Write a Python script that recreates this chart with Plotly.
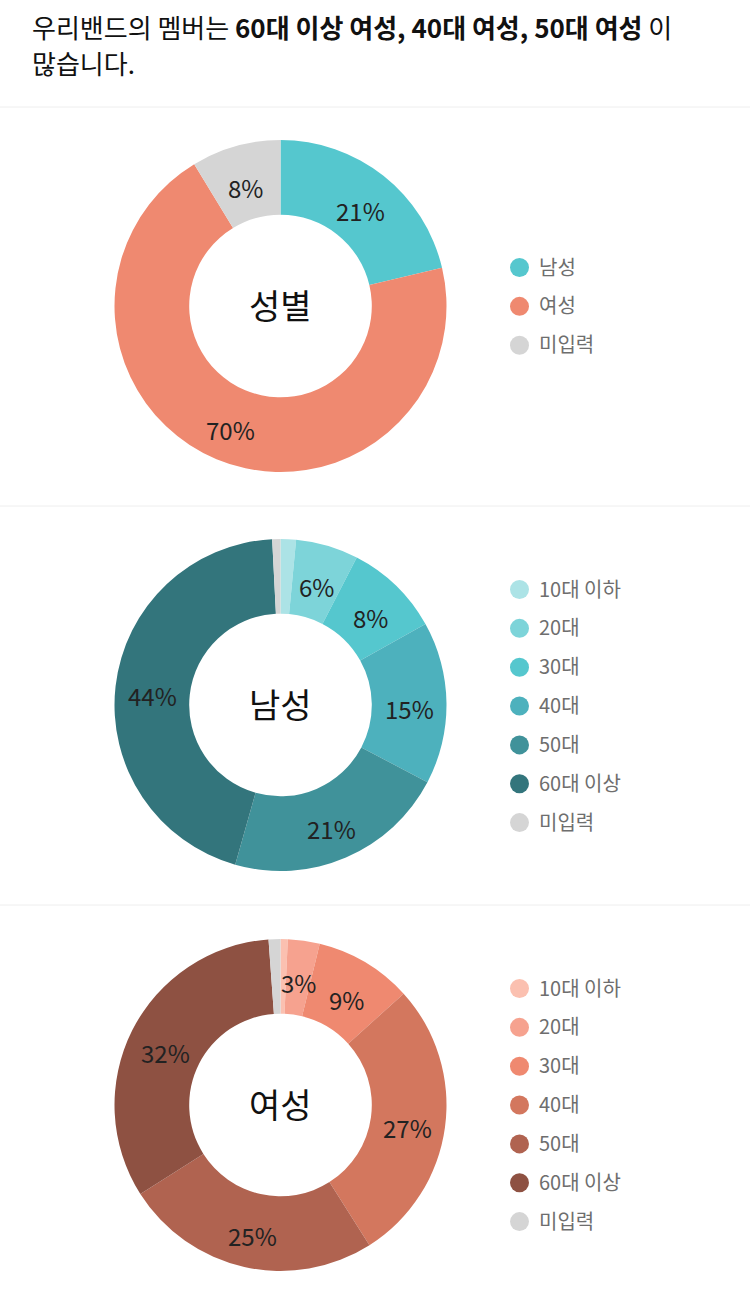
import math
import plotly.graph_objects as go

W, H = 750, 1298
FONT = "Noto Sans CJK KR"

gender_labels = ["남성", "여성", "미입력"]
gender_values = [21.3, 70.0, 8.7]
gender_text = ["21%", "70%", "8%"]
gender_colors = ["#55C7CE", "#EF8970", "#D5D5D5"]

age_labels = ["10대 이하", "20대", "30대", "40대", "50대", "60대 이상", "미입력"]

male_values = [1.5, 6.1, 9.3, 15.8, 21.7, 44.8, 0.8]
male_text = ["", "6%", "8%", "15%", "21%", "44%", ""]
male_colors = ["#ACE3E6", "#7DD4D9", "#55C7CE", "#4DB1BD", "#40929A", "#33757C", "#D5D5D5"]

female_values = [0.7, 3.1, 9.5, 27.7, 25.0, 32.85, 1.15]
female_text = ["", "3%", "9%", "27%", "25%", "32%", ""]
female_colors = ["#FBC0B0", "#F6A28F", "#EF8970", "#D3775E", "#B06350", "#8E5142", "#D5D5D5"]

charts = [
    ("성별", 306, gender_labels, gender_values, gender_text, gender_colors, 267),
    ("남성", 705, age_labels, male_values, male_text, male_colors, 589),
    ("여성", 1105, age_labels, female_values, female_text, female_colors, 988),
]
separators = [107, 506, 905]
CX, R, HOLE = 280.5, 166, 0.55
LEG_X, LEG_TEXT_X, LEG_STEP = 519.5, 539, 38.85

fig = go.Figure()
annotations = []

def add_text(x, y, text, size, color="#222222", anchor="center"):
    annotations.append(dict(xref="x", yref="y", x=x, y=y, text=text, showarrow=False,
                            xanchor=anchor, yanchor="middle",
                            font=dict(family=FONT, size=size, color=color)))

for title, cy, labels, values, texts, colors, leg_y in charts:
    fig.add_trace(go.Pie(
        labels=labels, values=values, marker=dict(colors=colors, line=dict(width=0)),
        hole=HOLE, sort=False, direction="clockwise", rotation=0,
        textinfo="none", showlegend=False, hoverinfo="label+percent",
        domain=dict(x=[(CX - R) / W, (CX + R) / W], y=[1 - (cy + R) / H, 1 - (cy - R) / H]),
    ))
    add_text(CX, cy - 2, title, 34, "#111111")
    # percent labels sit at the middle of each ring slice
    total, run = sum(values), 0
    mid_r = R * (1 + HOLE) / 2
    for v, t in zip(values, texts):
        a = 2 * math.pi * (run + v / 2) / total
        run += v
        if t:
            add_text(CX + mid_r * math.sin(a), cy - mid_r * math.cos(a) + 5, t, 24, "#222222")
    # legend rows
    ys = [leg_y + i * LEG_STEP for i in range(len(labels))]
    fig.add_trace(go.Scatter(
        x=[LEG_X] * len(labels), y=[v + 0.5 for v in ys], mode="markers",
        marker=dict(size=19, color=colors, line=dict(width=0)),
        showlegend=False, hoverinfo="skip", cliponaxis=False,
    ))
    fig.add_trace(go.Scatter(
        x=[LEG_TEXT_X] * len(labels), y=[v + 2.5 for v in ys], mode="text",
        text=labels, textposition="middle right",
        textfont=dict(family=FONT, size=20, color="#6E6E6E"),
        showlegend=False, hoverinfo="skip", cliponaxis=False,
    ))

add_text(30, 26, '우리밴드의 멤버는 <b>60대 이상 여성, 40대 여성, 50대 여성</b> 이', 26, "#111111", "left")
add_text(30, 62, '많습니다.', 26, "#111111", "left")

fig.update_layout(
    width=W, height=H, margin=dict(l=0, r=0, t=0, b=0),
    paper_bgcolor="white", plot_bgcolor="rgba(0,0,0,0)",
    xaxis=dict(range=[0, W], visible=False, fixedrange=True, domain=[0, 1]),
    yaxis=dict(range=[H, 0], visible=False, fixedrange=True, domain=[0, 1]),
    annotations=annotations,
    shapes=[dict(type="line", xref="x", yref="y", x0=0, x1=W, y0=s, y1=s,
                 line=dict(color="#EEEEEE", width=1)) for s in separators],
)
fig.write_html("out.html", config={"displayModeBar": False},
               post_script="document.body.style.margin='0';document.body.style.overflow='hidden';")
